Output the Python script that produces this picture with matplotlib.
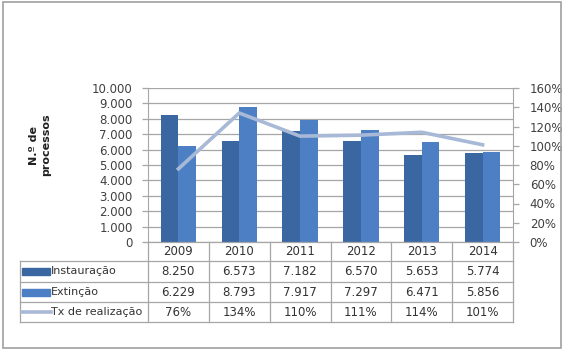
import numpy as np
import matplotlib.pyplot as plt
from matplotlib.lines import Line2D
from matplotlib.patches import Rectangle
from matplotlib.ticker import FuncFormatter

anos = ["2009", "2010", "2011", "2012", "2013", "2014"]
instauracao = [8250, 6573, 7182, 6570, 5653, 5774]
extincao = [6229, 8793, 7917, 7297, 6471, 5856]
tx_realizacao = [76, 134, 110, 111, 114, 101]
series_nomes = ["Instauração", "Extinção", "Tx de realização"]

W, H = 564, 358
c_dark = "#3A66A2"
c_light = "#4C7FC3"
c_line = "#A7B9D6"
c_grid = "#A6A6A6"
c_txt = "#404040"

fig = plt.figure(figsize=(W / 100, H / 100), dpi=100)
fig.patch.set_facecolor("white")

# plot area in pixels
px0, px1, py0, py1 = 148, 513, 88, 242
ax = fig.add_axes([px0 / W, 1 - py1 / H, (px1 - px0) / W, (py1 - py0) / H])
x = np.arange(len(anos))
bw = 0.29
ax.bar(x - bw / 2, instauracao, bw, color=c_dark, zorder=3)
ax.bar(x + bw / 2, extincao, bw, color=c_light, zorder=3)
ax.set_xlim(-0.5, len(anos) - 0.5)
ax.set_ylim(0, 10000)
ax.set_yticks(np.arange(0, 10001, 1000))
ax.yaxis.set_major_formatter(FuncFormatter(lambda v, p: f"{int(v):,}".replace(",", ".")))
ax.grid(axis="y", color=c_grid, linewidth=0.9, zorder=0)
ax.set_xticks([])
for s in ["top", "right", "bottom"]:
    ax.spines[s].set_visible(False)
ax.spines["left"].set_color(c_grid)
ax.tick_params(axis="y", colors=c_grid, labelcolor=c_txt, labelsize=8.5, length=4, width=0.9, pad=7)

ax2 = ax.twinx()
ax2.plot(x, tx_realizacao, color=c_line, linewidth=2.6, zorder=4)
ax2.set_ylim(0, 160)
ax2.set_yticks(np.arange(0, 161, 20))
ax2.yaxis.set_major_formatter(FuncFormatter(lambda v, p: f"{int(v)}%"))
for s in ["top", "left", "bottom"]:
    ax2.spines[s].set_visible(False)
ax2.spines["right"].set_color(c_grid)
ax2.tick_params(axis="y", colors=c_grid, labelcolor=c_txt, labelsize=8.5, length=4, width=0.9, pad=8)

fig.text(40 / W, 1 - 145 / H, "N.º de\nprocessos", rotation=90, ha="center", va="center",
         fontsize=8, fontweight="bold", color="#202020", linespacing=1.3)

# data table under the chart
rows_y = [242, 261, 282, 302, 322]
tl = 20
def fy(p):
    return 1 - p / H
def fx_data(v):
    disp = ax.transData.transform((v, 0))
    return fig.transFigure.inverted().transform(disp)[0]

lw = 0.9
for b in range(len(anos) + 1):
    xb = fx_data(b - 0.5)
    fig.add_artist(Line2D([xb, xb], [fy(rows_y[0]), fy(rows_y[-1])], color=c_grid, lw=lw))
for r in rows_y[1:]:
    fig.add_artist(Line2D([tl / W, fx_data(len(anos) - 0.5)], [fy(r), fy(r)], color=c_grid, lw=lw))
fig.add_artist(Line2D([tl / W, tl / W], [fy(rows_y[1]), fy(rows_y[-1])], color=c_grid, lw=lw))
fig.add_artist(Line2D([px0 / W, px1 / W], [fy(py1), fy(py1)], color=c_grid, lw=lw))

hy = fy((rows_y[0] + rows_y[1]) / 2)
for i, a in enumerate(anos):
    fig.text(fx_data(i), hy, a, ha="center", va="center", fontsize=8.5, color="#333333")

valores = [
    [f"{v:,}".replace(",", ".") for v in instauracao],
    [f"{v:,}".replace(",", ".") for v in extincao],
    [f"{v}%" for v in tx_realizacao],
]
for r, (nome, vals) in enumerate(zip(series_nomes, valores)):
    yc = fy((rows_y[r + 1] + rows_y[r + 2]) / 2)
    if r < 2:
        fig.add_artist(Rectangle((22 / W, yc - 3.5 / H), 28 / W, 7 / H,
                                 color=[c_dark, c_light][r], transform=fig.transFigure))
    else:
        fig.add_artist(Line2D([22 / W, 51 / W], [yc, yc], color=c_line, lw=2.6))
    fig.text(51 / W, yc, nome, ha="left", va="center", fontsize=8, color="#333333")
    for i, v in enumerate(vals):
        fig.text(fx_data(i), yc, v, ha="center", va="center", fontsize=8.5, color="#333333")

# outer frame
fig.add_artist(Rectangle((3 / W, 1 - 348 / H), 558 / W, 346 / H, fill=False,
                         edgecolor="#A0A0A0", lw=1.2, transform=fig.transFigure))

fig.savefig("out.png", dpi=100)
